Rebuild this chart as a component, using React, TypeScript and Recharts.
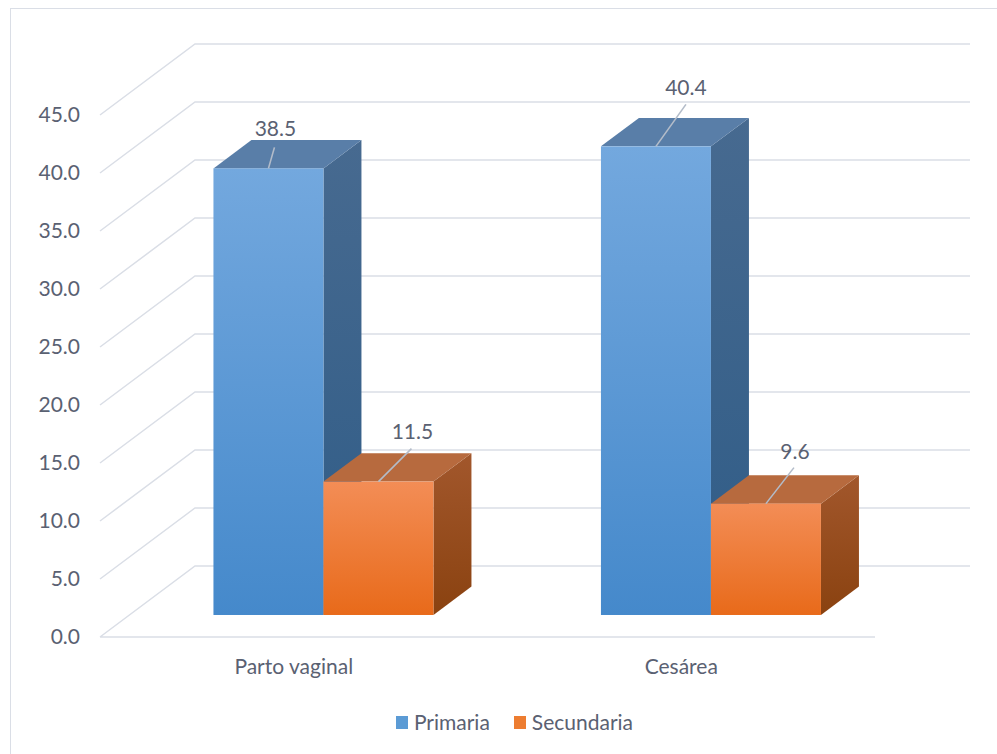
import { Bar, BarChart, CartesianGrid, LabelList, Legend, XAxis, YAxis } from "recharts";

const CATEGORIES = ["Parto vaginal", "Cesárea"];
const PRIMARIA = [38.5, 40.4];
const SECUNDARIA = [11.5, 9.6];
const Y_TICKS = [0, 5, 10, 15, 20, 25, 30, 35, 40, 45];

const data = CATEGORIES.map((categoria, i) => ({
  categoria,
  primaria: PRIMARIA[i],
  secundaria: SECUNDARIA[i],
}));

// 3D look: full depth of the floor, and where the bars sit inside it
const DEPTH_X = 95;
const DEPTH_Y = -71;
const BAR_Z = 0.31;
const BAR_DEPTH = 0.4;

const TEXT = "#5a6172";
const GRID = "#dadee6";
const FONT = "Lato, 'Open Sans', sans-serif";

const BLUE = { front: "blueFront", side: "blueSide", top: "#597ea8", swatch: "#5b9bd5" };
const ORANGE = { front: "orangeFront", side: "orangeSide", top: "#b76a3e", swatch: "#ed7d31" };

// where Excel's data labels were dragged to, relative to the top of each front face
const LABEL_NUDGE: Record<string, { lx: number; ly: number; tx: number; ty: number }[]> = {
  primaria: [
    { lx: 6, ly: -21, tx: 7, ty: -40 },
    { lx: 30, ly: -42, tx: 30, ty: -59 },
  ],
  secundaria: [
    { lx: 33, ly: -33, tx: 34, ty: -50 },
    { lx: 28, ly: -36, tx: 29, ty: -52 },
  ],
};

type Palette = typeof BLUE;

function Bar3D(props: any & { palette: Palette }) {
  const { x, y, width: w, height: h, palette } = props;
  if (w == null || h == null) return null;
  const ox = x + BAR_Z * DEPTH_X;
  const oy = y + BAR_Z * DEPTH_Y;
  const dx = BAR_DEPTH * DEPTH_X;
  const dy = BAR_DEPTH * DEPTH_Y;
  return (
    <g>
      <polygon
        points={`${ox + w},${oy} ${ox + w + dx},${oy + dy} ${ox + w + dx},${oy + h + dy} ${ox + w},${oy + h}`}
        fill={`url(#${palette.side})`}
      />
      <polygon
        points={`${ox},${oy} ${ox + w},${oy} ${ox + w + dx},${oy + dy} ${ox + dx},${oy + dy}`}
        fill={palette.top}
      />
      <rect x={ox} y={oy} width={w} height={h} fill={`url(#${palette.front})`} />
    </g>
  );
}

function LeaderLabel(props: any & { series: string }) {
  const vb = props.viewBox ?? props;
  const { x, y, width } = vb;
  const nudge = LABEL_NUDGE[props.series]?.[props.index];
  if (x == null || !nudge) return null;
  const cx = x + BAR_Z * DEPTH_X + width / 2;
  const top = y + BAR_Z * DEPTH_Y;
  return (
    <g>
      <line x1={cx} y1={top} x2={cx + nudge.lx} y2={top + nudge.ly} stroke="#b3bcc9" strokeWidth={1.6} />
      <text
        x={cx + nudge.tx}
        y={top + nudge.ty}
        dy="0.36em"
        textAnchor="middle"
        fill={TEXT}
        fontSize={21}
        fontFamily={FONT}
      >
        {Number(props.value).toFixed(1)}
      </text>
    </g>
  );
}

function GridLine3D(props: any) {
  const { x1, y1, x2, y, height } = props;
  const floor = Math.abs(y1 - (y + height)) < 0.5;
  const bx = x1 + DEPTH_X;
  const by = y1 + DEPTH_Y;
  let d = `M${x1},${y1} L${bx},${by} L${x2 + DEPTH_X},${by}`;
  if (floor) d += ` M${x1},${y1} L${x2},${y1}`;
  return <path key={props.key} d={d} stroke={GRID} strokeWidth={1.5} fill="none" />;
}

function LegendContent() {
  const items = [
    { label: "Primaria", color: BLUE.swatch },
    { label: "Secundaria", color: ORANGE.swatch },
  ];
  return (
    <div style={{ display: "flex", justifyContent: "center", alignItems: "center", gap: 24 }}>
      {items.map((it) => (
        <div key={it.label} style={{ display: "flex", alignItems: "center", gap: 6 }}>
          <span style={{ width: 12, height: 13, background: it.color, display: "inline-block" }} />
          <span style={{ color: TEXT, fontSize: 21, fontFamily: FONT, lineHeight: "28px" }}>{it.label}</span>
        </div>
      ))}
    </div>
  );
}

export default function App() {
  return (
    <div style={{ position: "fixed", left: 0, top: 0, width: 997, height: 754, background: "#fff" }}>
      <div
        style={{
          position: "absolute",
          left: 10,
          top: 8,
          width: 1000,
          height: 800,
          border: `1.5px solid ${GRID}`,
          boxSizing: "border-box",
        }}
      />
      <BarChart
        width={997}
        height={754}
        data={data}
        margin={{ top: 115, right: 122, bottom: 87, left: 0 }}
        barGap={0}
        barSize={110}
        style={{ position: "absolute", left: 0, top: 0 }}
      >
        <defs>
          <linearGradient id="blueFront" x1="0" y1="0" x2="0" y2="1">
            <stop offset="0%" stopColor="#73a8de" />
            <stop offset="100%" stopColor="#4589cb" />
          </linearGradient>
          <linearGradient id="blueSide" x1="0" y1="0" x2="0" y2="1">
            <stop offset="0%" stopColor="#476a90" />
            <stop offset="100%" stopColor="#2f5c87" />
          </linearGradient>
          <linearGradient id="orangeFront" x1="0" y1="0" x2="0" y2="1">
            <stop offset="0%" stopColor="#f38d56" />
            <stop offset="100%" stopColor="#e86a1a" />
          </linearGradient>
          <linearGradient id="orangeSide" x1="0" y1="0" x2="0" y2="1">
            <stop offset="0%" stopColor="#a2572c" />
            <stop offset="100%" stopColor="#8a4210" />
          </linearGradient>
        </defs>
        <CartesianGrid vertical={false} horizontal={(p: any) => <GridLine3D {...p} />} />
        <XAxis
          dataKey="categoria"
          axisLine={false}
          tickLine={false}
          tickSize={0}
          tickMargin={22}
          height={30}
          tick={{ fill: TEXT, fontSize: 21, fontFamily: FONT }}
        />
        <YAxis
          domain={[0, 45]}
          ticks={Y_TICKS}
          width={100}
          axisLine={false}
          tickLine={false}
          tickSize={0}
          tickMargin={20}
          tickFormatter={(v: number) => v.toFixed(1)}
          tick={{ fill: TEXT, fontSize: 21, fontFamily: FONT }}
        />
        <Legend
          layout="horizontal"
          verticalAlign="middle"
          align="center"
          content={<LegendContent />}
          wrapperStyle={{ top: 708, left: 32, width: 965 }}
        />
        <Bar
          dataKey="primaria"
          name="Primaria"
          fill={BLUE.swatch}
          isAnimationActive={false}
          shape={(p: any) => <Bar3D {...p} palette={BLUE} />}
        >
          <LabelList dataKey="primaria" content={(p: any) => <LeaderLabel {...p} series="primaria" />} />
        </Bar>
        <Bar
          dataKey="secundaria"
          name="Secundaria"
          fill={ORANGE.swatch}
          isAnimationActive={false}
          shape={(p: any) => <Bar3D {...p} palette={ORANGE} />}
        >
          <LabelList dataKey="secundaria" content={(p: any) => <LeaderLabel {...p} series="secundaria" />} />
        </Bar>
      </BarChart>
    </div>
  );
}
